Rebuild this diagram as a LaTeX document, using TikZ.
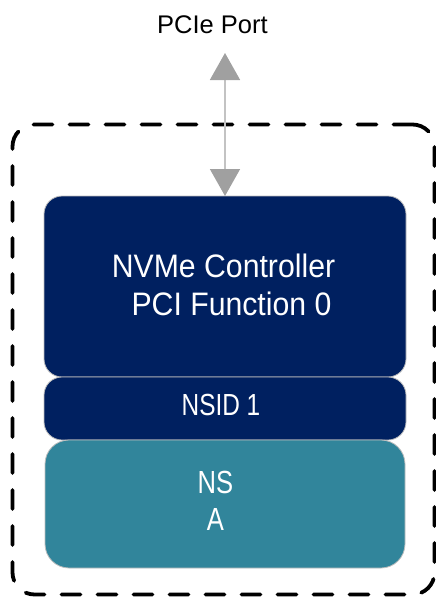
\documentclass[tikz,border=0pt]{standalone}
\usepackage{fontspec}
\usepackage{graphicx}
\setmainfont{Liberation Sans}
\usetikzlibrary{arrows.meta}
\definecolor{navy}{RGB}{0,32,96}
\definecolor{teal}{RGB}{49,133,155}
\definecolor{arrowgray}{RGB}{160,160,160}
\definecolor{linegray}{RGB}{195,195,195}
\definecolor{edgegray}{RGB}{190,190,190}
\begin{document}
\begin{tikzpicture}[x=1pt,y=-1pt,
  box/.style={draw=edgegray, line width=0.8pt, inner sep=0pt, outer sep=0pt,
    minimum width=362pt},
  lbl/.style={anchor=base, text=white, inner sep=0pt},
  frame/.style={draw=black, line width=3.8pt, dash pattern=on 19pt off 17pt,
    line cap=round, rounded corners=22pt, inner sep=0pt, minimum width=422pt, minimum height=470pt},
  port/.style={draw=linegray, line width=1.6pt,
    {Triangle[width=30pt,length=27pt,color=arrowgray]}-{Triangle[width=30pt,length=27pt,color=arrowgray]}}
]
\useasboundingbox (0,0) rectangle (436,597);
\node[frame] (frame) at (223.5,359.5) {};
\node[box, fill=navy, rounded corners=18pt, minimum height=181pt] (ctrl) at (225,286.5) {};
\node[box, fill=navy, rounded corners=18pt, minimum height=63pt] (nsid) at (225,408.5) {};
\node[box, fill=teal, rounded corners=24pt, minimum height=128pt, minimum width=360pt] (ns) at (225,504) {};
\node[anchor=base, inner sep=0pt, font=\fontsize{25.5}{30}\selectfont] (pcie) at (212.5,33) {PCIe Port};
\coordinate (porttip) at (225,53);
\draw[port] (porttip) -- (ctrl.north);
\node[lbl, font=\fontsize{32.5}{38}\selectfont] (t1) at (223.5,277) {\scalebox{0.93}[1]{NVMe Controller}};
\node[lbl, font=\fontsize{32.5}{38}\selectfont] (t2) at (231.5,315) {\scalebox{0.93}[1]{PCI Function 0}};
\node[lbl, font=\fontsize{30.5}{36}\selectfont] (t3) at (221,415) {\scalebox{0.8}[1]{NSID 1}};
\node[lbl, font=\fontsize{32}{38}\selectfont] (t4) at (215.5,493) {\scalebox{0.8}[1]{NS}};
\node[lbl, font=\fontsize{32}{38}\selectfont] (t5) at (215.5,530) {\scalebox{0.8}[1]{A}};
\end{tikzpicture}
\end{document}
